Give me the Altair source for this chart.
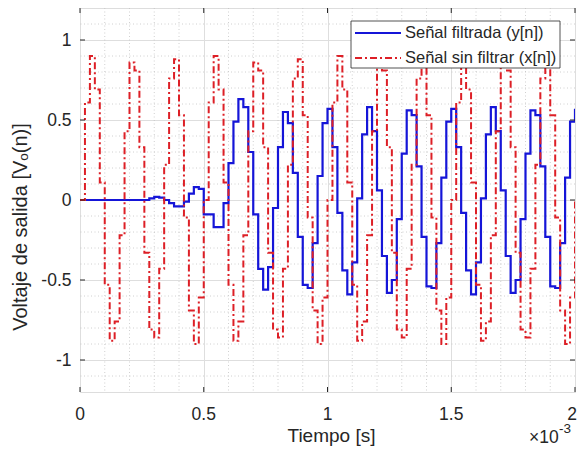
import altair as alt
import pandas as pd

# ---- data (sampling period 20 us, 101 samples) ----
t_ms = [k * 0.02 for k in range(101)]

x_n = [
    0.00, 0.61, 0.90, 0.69, 0.11, -0.53, -0.88, -0.76, -0.22, 0.43, 0.86, 0.81, 0.33,
    -0.33, -0.81, -0.86, -0.43, 0.22, 0.76, 0.88, 0.53, -0.11, -0.69, -0.90, -0.61,
    0.00, 0.61, 0.90, 0.69, 0.11, -0.53, -0.88, -0.76, -0.22, 0.43, 0.86, 0.81, 0.33,
    -0.33, -0.81, -0.86, -0.43, 0.22, 0.76, 0.88, 0.53, -0.11, -0.69, -0.90, -0.61,
    0.00, 0.61, 0.90, 0.69, 0.11, -0.53, -0.88, -0.76, -0.22, 0.43, 0.86, 0.81, 0.33,
    -0.33, -0.81, -0.86, -0.43, 0.22, 0.76, 0.88, 0.53, -0.11, -0.69, -0.90, -0.61,
    0.00, 0.61, 0.90, 0.69, 0.11, -0.53, -0.88, -0.76, -0.22, 0.43, 0.86, 0.81, 0.33,
    -0.33, -0.81, -0.86, -0.43, 0.22, 0.76, 0.88, 0.53, -0.11, -0.69, -0.90, -0.61,
    0.00,
]

y_n = [
    0.00, 0.00, 0.00, 0.00, 0.00, 0.00, 0.00, 0.00, 0.00, 0.00, 0.00, 0.00, 0.00,
    0.00, 0.01, 0.02, 0.015, 0.00, -0.02, -0.04, -0.04, -0.01, 0.04, 0.08, 0.07,
    -0.09, -0.09, -0.17, -0.17, -0.02, 0.23, 0.49, 0.63, 0.58, 0.30, -0.09, -0.43,
    -0.56, -0.42, -0.05, 0.33, 0.55, 0.48, 0.17, -0.23, -0.53, -0.55, -0.27, 0.15,
    0.48,
    0.57, 0.33, -0.08, -0.44, -0.59, -0.39, 0.01, 0.41, 0.58, 0.43, 0.06, -0.35,
    -0.58, -0.50, -0.12, 0.29, 0.56, 0.53, 0.21, -0.23, -0.54, -0.55, -0.27, 0.14,
    0.49,
    0.57, 0.33, -0.08, -0.44, -0.59, -0.39, 0.01, 0.41, 0.58, 0.43, 0.06, -0.35,
    -0.58, -0.50, -0.12, 0.29, 0.56, 0.53, 0.21, -0.23, -0.54, -0.55, -0.27, 0.14,
    0.49,
    0.57,
]

x_major = [0, 0.5, 1, 1.5, 2]
x_labels = ["0", "0.5", "1", "1.5", "2"]
y_major = [-1, -0.5, 0, 0.5, 1]
x_minor = [0.1, 0.2, 0.3, 0.4, 0.6, 0.7, 0.8, 0.9, 1.1, 1.2, 1.3, 1.4,
           1.6, 1.7, 1.8, 1.9]
y_minor = [-1.1, -0.9, -0.8, -0.7, -0.6, -0.4, -0.3, -0.2, -0.1,
           0.1, 0.2, 0.3, 0.4, 0.6, 0.7, 0.8, 0.9, 1.1]

legend_labels = ["Señal filtrada (y[n])", "Señal sin filtrar (x[n])"]
x_title = "Tiempo [s]"
y_title = "Voltaje de salida [Vₒ(n)]"

# ---- styling ----
W, H = 495, 384
BLUE = "#1515d8"
RED = "#dd1f26"
TXT = "#262626"
FONT = "Liberation Sans"

df = pd.DataFrame({"t": t_ms, "x": x_n, "y": y_n})
one = pd.DataFrame({"k": [0]})

xs = alt.Scale(domain=[0, 2], nice=False, zero=False)
ys = alt.Scale(domain=[-1.2, 1.2], nice=False, zero=False)

ax_x = alt.Axis(values=x_major, labels=False, title=None,
                grid=True, gridColor="#dedede", gridWidth=1, ticks=False,
                tickSize=0, domain=False)
ax_y = alt.Axis(values=y_major, labelExpr="'' + datum.value", title=None,
                grid=True, gridColor="#dedede", gridWidth=1, ticks=False,
                tickSize=0, domain=False, labelPadding=9, labelFontSize=17.5,
                labelFont=FONT, labelColor=TXT)

minor_x = alt.Chart(pd.DataFrame({"v": x_minor})).mark_rule(
    color="#c4c4c4", strokeWidth=0.8, strokeDash=[1, 2.5]
).encode(x=alt.X("v:Q", scale=xs, axis=ax_x))

minor_y = alt.Chart(pd.DataFrame({"v": y_minor})).mark_rule(
    color="#c4c4c4", strokeWidth=0.8, strokeDash=[1, 2.5]
).encode(y=alt.Y("v:Q", scale=ys, axis=ax_y))

blue = alt.Chart(df).mark_line(
    interpolate="step-after", color=BLUE, strokeWidth=2.2, clip=True
).encode(x=alt.X("t:Q", scale=xs, axis=ax_x), y=alt.Y("y:Q", scale=ys, axis=ax_y))

red = alt.Chart(df).mark_line(
    interpolate="step-after", color=RED, strokeWidth=2, clip=True,
    strokeDash=[7, 3, 2, 3]
).encode(x=alt.X("t:Q", scale=xs, axis=ax_x), y=alt.Y("x:Q", scale=ys, axis=ax_y))

# inward ticks on all four sides
tx = pd.DataFrame({"v": x_major, "lab": x_labels})
ty = pd.DataFrame({"v": y_major})
tick_b = alt.Chart(tx).mark_rule(color=TXT, strokeWidth=1).encode(
    x=alt.X("v:Q", scale=xs, axis=ax_x), y=alt.value(H), y2=alt.value(H - 5))
tick_t = alt.Chart(tx).mark_rule(color=TXT, strokeWidth=1).encode(
    x=alt.X("v:Q", scale=xs, axis=ax_x), y=alt.value(0), y2=alt.value(5))
tick_l = alt.Chart(ty).mark_rule(color=TXT, strokeWidth=1).encode(
    y=alt.Y("v:Q", scale=ys, axis=ax_y), x=alt.value(0), x2=alt.value(5))
tick_r = alt.Chart(ty).mark_rule(color=TXT, strokeWidth=1).encode(
    y=alt.Y("v:Q", scale=ys, axis=ax_y), x=alt.value(W - 5), x2=alt.value(W))

# x tick labels (the last one kept inside the page)
xlab = alt.Chart(tx.iloc[:4]).mark_text(
    align="center", baseline="alphabetic", font=FONT, fontSize=17.5, color=TXT
).encode(x=alt.X("v:Q", scale=xs, axis=ax_x), y=alt.value(H + 28), text="lab:N")
xlab_last = alt.Chart(tx.iloc[4:]).mark_text(
    align="center", baseline="alphabetic", font=FONT, fontSize=17.5, color=TXT, dx=-3
).encode(x=alt.X("v:Q", scale=xs, axis=ax_x), y=alt.value(H + 28), text="lab:N")

# legend (drawn by hand, MATLAB style)
leg_box = alt.Chart(one).mark_rect(fill="white", stroke=TXT, strokeWidth=0.8).encode(
    x=alt.value(271), x2=alt.value(480), y=alt.value(13), y2=alt.value(60))
leg_l1 = alt.Chart(one).mark_rule(color=BLUE, strokeWidth=2.2).encode(
    x=alt.value(275), x2=alt.value(321), y=alt.value(25))
leg_l2 = alt.Chart(one).mark_rule(color=RED, strokeWidth=2, strokeDash=[7, 3, 2, 3]).encode(
    x=alt.value(275), x2=alt.value(321), y=alt.value(50))
leg_t1 = alt.Chart(one).mark_text(
    text=legend_labels[0], align="left", baseline="middle", font=FONT,
    fontSize=16.5, color=TXT).encode(x=alt.value(325), y=alt.value(25))
leg_t2 = alt.Chart(one).mark_text(
    text=legend_labels[1], align="left", baseline="middle", font=FONT,
    fontSize=16.5, color=TXT).encode(x=alt.value(325), y=alt.value(50))

# titles and exponent
xt = alt.Chart(one).mark_text(
    text=x_title, align="center", baseline="alphabetic", font=FONT,
    fontSize=19, color=TXT).encode(x=alt.value(W / 2 + 4), y=alt.value(H + 50))
yt = alt.Chart(one).mark_text(
    text=y_title, align="center", baseline="middle", angle=270, font=FONT,
    fontSize=20, color=TXT).encode(x=alt.value(-59), y=alt.value(219))
e1 = alt.Chart(one).mark_text(
    text="×10", align="left", baseline="alphabetic", font=FONT,
    fontSize=17.5, color=TXT).encode(x=alt.value(449), y=alt.value(H + 51))
e2 = alt.Chart(one).mark_text(
    text="-3", align="left", baseline="alphabetic", font=FONT,
    fontSize=13.5, color=TXT).encode(x=alt.value(479), y=alt.value(H + 41))

chart = alt.layer(
    minor_x, minor_y, blue, red, tick_b, tick_t, tick_l, tick_r,
    xlab, xlab_last,
    leg_box, leg_l1, leg_l2, leg_t1, leg_t2, xt, yt, e1, e2
).properties(
    width=W, height=H,
    autosize=alt.AutoSizeParams(type="none"),
    padding={"left": 72, "top": 0, "right": 2, "bottom": 54},
).configure_view(
    stroke=TXT, strokeWidth=1
).configure(background="white")

chart.save("out.html", embed_options={"renderer": "svg", "actions": False})
